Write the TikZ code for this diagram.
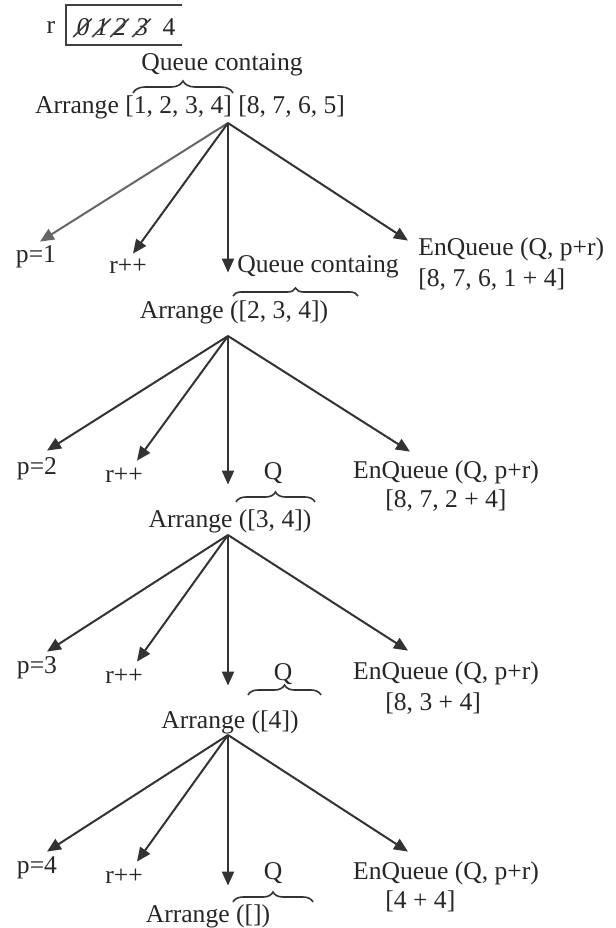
\documentclass[tikz,border=0pt]{standalone}
\usepackage{fontspec}
\setmainfont{Liberation Serif}
\usetikzlibrary{arrows.meta,decorations.pathreplacing,positioning}

\tikzset{
  lbl/.style={inner sep=0pt, text height=0.7em, text depth=0.25em, anchor=base, text=black!85},
  arr/.style={draw=black!80, line width=1pt, -{Triangle[length=7pt,width=6pt]}},
  brc/.style={decorate, decoration={brace, amplitude=#1}, draw=black!80, line width=0.8pt},
  brc/.default=5pt
}

\begin{document}
\begin{tikzpicture}[x=0.5pt, y=-0.5pt, font=\fontsize{12.8pt}{15pt}\selectfont]
\useasboundingbox (0,0) rectangle (616,928);

% Header
\node[lbl] (rlab) at (51,33) {r};
\draw[draw=black!75, line width=1pt] (182,5) -- (66,5) -- (66,45) -- (182,45);
\node[lbl] (d0) at (83,35) {\itshape 0};
\node[lbl] (d1) at (102,35) {\itshape 1};
\node[lbl] (d2) at (120,35) {\itshape 2};
\node[lbl] (d3) at (142,35) {\itshape 3};
\node[lbl] (d4) at (169,35) {4};
\draw[black!75, line width=0.8pt] ([shift={(-3,2)}]d0.base west) -- ([shift={(2,-2)}]d0.north east);
\draw[black!75, line width=0.8pt] ([shift={(-3,2)}]d1.base west) -- ([shift={(2,-2)}]d1.north east);
\draw[black!75, line width=0.8pt] ([shift={(-3,2)}]d2.base west) -- ([shift={(2,-2)}]d2.north east);
\draw[black!75, line width=0.8pt] ([shift={(-3,2)}]d3.base west) -- ([shift={(2,-2)}]d3.north east);

\node[lbl] (qc0) at (222,70) {Queue containg};
\draw[brc=6pt] (133,93) -- (233,93);
\node[lbl] (ar1) at (190,113) {Arrange [1, 2, 3, 4] [8, 7, 6, 5]};
\coordinate (t1) at (228,123);

% Level 1
\node[lbl] (p1) at (36,262) {p=1};
\node[lbl] (rp1) at (128,273) {r++};
\node[lbl, anchor=base west] (qc1) at (237,272) {Queue containg};
\draw[brc=4pt] (233,296) -- (358,296);
\node[lbl, anchor=base west] (enq1) at (418,255) {EnQueue (Q, p+r)};
\node[lbl, anchor=base west] (ls1) at (418,286) {[8, 7, 6, 1 + 4]};
\node[lbl] (ar2) at (234,318) {Arrange ([2, 3, 4])};
\coordinate (t2) at (228,336);

\draw[arr, draw=black!60] (t1) -- ([shift={(4,-6)}]p1.north);
\draw[arr] (t1) -- ([shift={(5,-5)}]rp1.north);
\draw[arr] (t1) -- ([shift={(-6,-31)}]ar2.north);
\draw[arr] (t1) -- ([shift={(-10,0)}]enq1.north west);

% Level 2
\node[lbl] (p2) at (37,474) {p=2};
\node[lbl] (rp2) at (124,482) {r++};
\node[lbl] (q2) at (273,479) {Q};
\draw[brc] (236,502) -- (315,502);
\node[lbl] (enq2) at (446,478) {EnQueue (Q, p+r)};
\node[lbl, anchor=base west] (ls2) at (385,507) {[8, 7, 2 + 4]};
\node[lbl] (ar3) at (230,527) {Arrange ([3, 4])};
\coordinate (t3) at (228,535);

\draw[arr] (t2) -- ([shift={(10,-9)}]p2.north);
\draw[arr] (t2) -- ([shift={(13,-7)}]rp2.north);
\draw[arr] (t2) -- ([shift={(-2,-28)}]ar3.north);
\draw[arr] (t2) -- ([shift={(-36,-12)}]enq2.north);

% Level 3
\node[lbl] (p3) at (37,673) {p=3};
\node[lbl] (rp3) at (124,683) {r++};
\node[lbl] (q3) at (283,680) {Q};
\draw[brc] (248,695) -- (321,695);
\node[lbl] (enq3) at (446,679) {EnQueue (Q, p+r)};
\node[lbl, anchor=base west] (ls3) at (385,710) {[8, 3 + 4]};
\node[lbl] (ar4) at (230,728) {Arrange ([4])};
\coordinate (t4) at (228,735);

\draw[arr] (t3) -- ([shift={(10,-7)}]p3.north);
\draw[arr] (t3) -- ([shift={(13,-7)}]rp3.north);
\draw[arr] (t3) -- ([shift={(-2,-28)}]ar4.north);
\draw[arr] (t3) -- ([shift={(-38,-14)}]enq3.north);

% Level 4
\node[lbl] (p4) at (37,873) {p=4};
\node[lbl] (rp4) at (124,883) {r++};
\node[lbl] (q4) at (273,879) {Q};
\draw[brc] (233,902) -- (313,902);
\node[lbl] (enq4) at (446,879) {EnQueue (Q, p+r)};
\node[lbl, anchor=base west] (ls4) at (385,908) {[4 + 4]};
\node[lbl] (ar5) at (208,922) {Arrange ([])};

\draw[arr] (t4) -- ([shift={(10,-7)}]p4.north);
\draw[arr] (t4) -- ([shift={(13,-7)}]rp4.north);
\draw[arr] (t4) -- ([shift={(20,-22)}]ar5.north);
\draw[arr] (t4) -- ([shift={(-38,-13)}]enq4.north);

\end{tikzpicture}
\end{document}
